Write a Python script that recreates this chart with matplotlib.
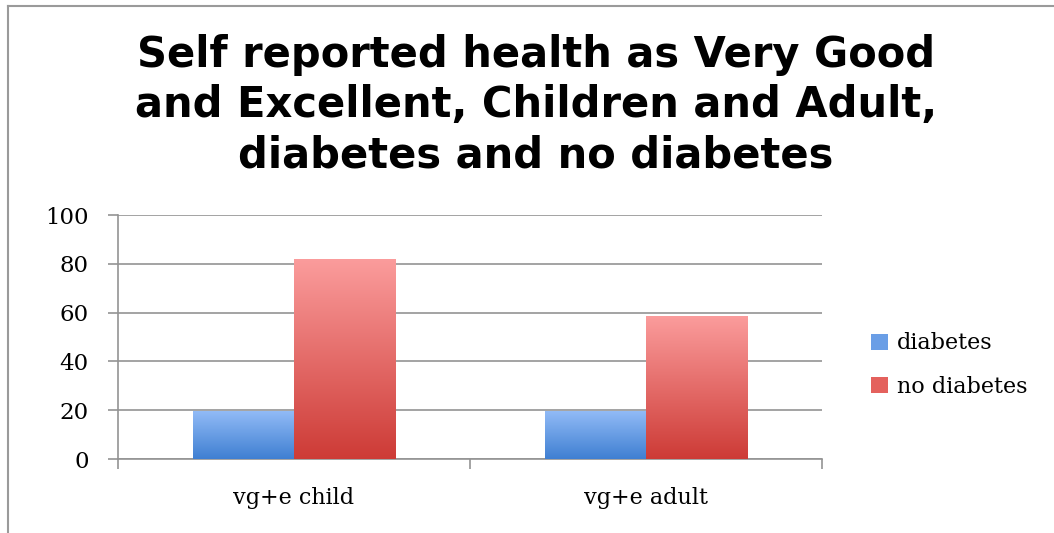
import numpy as np
import matplotlib
matplotlib.use("Agg")
import matplotlib.pyplot as plt
from matplotlib.colors import LinearSegmentedColormap
from matplotlib.lines import Line2D
from matplotlib.patches import Patch

# dados
categories = ["vg+e child", "vg+e adult"]
series_names = ["diabetes", "no diabetes"]
diabetes = [19.7, 19.8]
no_diabetes = [81.8, 58.5]
yticks = [0, 20, 40, 60, 80, 100]
title = "Self reported health as Very Good\nand Excellent, Children and Adult,\ndiabetes and no diabetes"

grad_colors = {
    "diabetes": ("#3f7fd2", "#93bcf7"),
    "no diabetes": ("#cd3b36", "#fb9c9c"),
}

W, H = 1054, 533
fig = plt.figure(figsize=(W / 100, H / 100), dpi=100)
ax = fig.add_axes([118 / W, 1 - 459 / H, (822 - 118) / W, (459 - 215) / H])

x = np.arange(len(categories))
width = 0.287

def gradient_bars(xpos, values, name):
    bars = ax.bar(xpos, values, width, color="none", edgecolor="none", zorder=3)
    bottom, top = grad_colors[name]
    cmap = LinearSegmentedColormap.from_list(name, [bottom, top])
    grad = np.linspace(0, 1, 256).reshape(-1, 1)
    for b in bars:
        x0, y0 = b.get_x(), b.get_y()
        w, h = b.get_width(), b.get_height()
        im = ax.imshow(grad, cmap=cmap, origin="lower", aspect="auto",
                       extent=[x0, x0 + w, y0, y0 + h], zorder=3)
        im.set_clip_path(b)
    return bars

gradient_bars(x - width / 2, diabetes, "diabetes")
gradient_bars(x + width / 2, no_diabetes, "no diabetes")

ax.set_xlim(-0.5, len(categories) - 0.5)
ax.set_ylim(0, 100)
ax.set_yticks(yticks)
ax.set_yticklabels([str(t) for t in yticks], family="DejaVu Serif", fontsize=16.5)
ax.yaxis.grid(True, color="#939393", linewidth=1.2, zorder=0)
ax.set_axisbelow(True)

# ticks do eixo x nas fronteiras das categorias
ax.set_xticks(np.arange(-0.5, len(categories)), minor=False)
ax.set_xticklabels([])
ax.set_xticks(x, minor=True)
ax.set_xticklabels(categories, minor=True, family="DejaVu Serif", fontsize=16)
ax.tick_params(axis="x", which="major", length=7, color="#939393", width=1.2)
ax.tick_params(axis="x", which="minor", length=0, pad=20)
ax.tick_params(axis="y", length=7, color="#939393", width=1.2, pad=14)

for s in ["top", "right"]:
    ax.spines[s].set_visible(False)
for s in ["left", "bottom"]:
    ax.spines[s].set_color("#939393")
    ax.spines[s].set_linewidth(1.2)

fig.text(536 / W, 1 - 105 / H, title, ha="center", va="center",
         fontsize=30, fontweight="bold", family="DejaVu Sans", linespacing=1.25)

handles = [Patch(facecolor="#6a9ee6", edgecolor="none"),
           Patch(facecolor="#e4615d", edgecolor="none")]
fig.legend(handles, series_names, loc="center left",
           bbox_to_anchor=(851 / W, 1 - 365 / H), frameon=False,
           prop={"family": "DejaVu Serif", "size": 16},
           handlelength=0.75, handleheight=0.75, handletextpad=0.4,
           labelspacing=0.95)

# borda do grafico
fig.add_artist(Line2D([8 / W, 8 / W], [0, 1 - 6 / H], transform=fig.transFigure,
                      color="#9a9a9a", linewidth=1.5))
fig.add_artist(Line2D([8 / W, 1], [1 - 6 / H, 1 - 6 / H], transform=fig.transFigure,
                      color="#9a9a9a", linewidth=1.5))

fig.savefig("out.png", dpi=100, facecolor="white")
